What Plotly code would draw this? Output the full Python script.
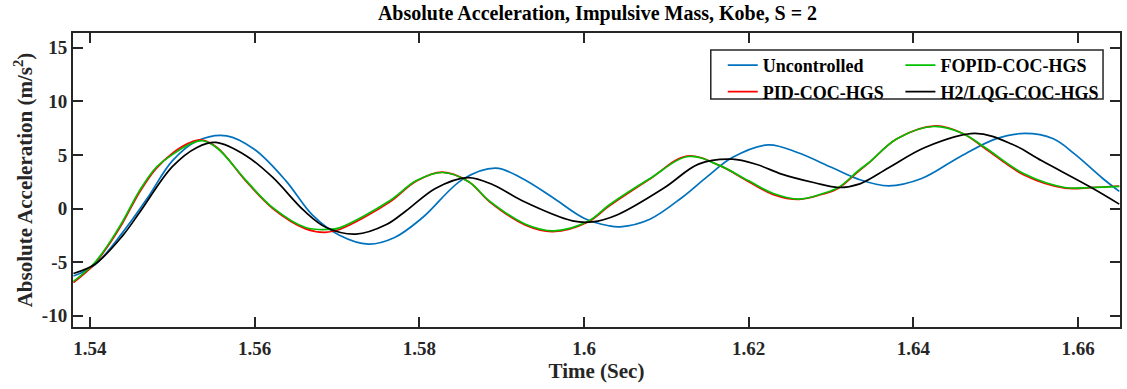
import plotly.graph_objects as go

# ---------------- data ----------------
t_unc = [1.5380, 1.5406, 1.5440, 1.5470, 1.5500, 1.5530, 1.5566, 1.5600, 1.5638, 1.5670,
         1.5703, 1.5738, 1.5770, 1.5804, 1.5853, 1.5893, 1.5925, 1.5962, 1.6000, 1.6030,
         1.6044, 1.6080, 1.6119, 1.6150, 1.6180, 1.6224, 1.6260, 1.6301, 1.6333, 1.6370,
         1.6410, 1.6455, 1.6500, 1.6535, 1.6570, 1.6596, 1.6630, 1.6650]
a_unc = [-6.3, -5.25, -2.2, 1.0, 4.45, 6.3, 6.78, 5.5, 2.58, -0.6,
         -2.5, -3.32, -2.7, -0.84, 2.74, 3.77, 2.8, 1.03, -0.9, -1.61,
         -1.71, -1.0, 1.03, 3.0, 4.76, 5.94, 5.2, 3.82, 2.74, 2.12,
         2.8, 4.76, 6.5, 7.0, 6.5, 5.07, 2.8, 1.6]

t_pid = [1.5380, 1.5404, 1.5420, 1.5440, 1.5460, 1.5480, 1.5501, 1.5520, 1.5535, 1.5555,
         1.5590, 1.5622, 1.5662, 1.5685, 1.5703, 1.5764, 1.5796, 1.5828, 1.5860, 1.5885,
         1.5929, 1.5962, 1.6006, 1.6030, 1.6079, 1.6125, 1.6165, 1.6200, 1.6230, 1.6261,
         1.6290, 1.6309, 1.6333, 1.6346, 1.6380, 1.6427, 1.6460, 1.6487, 1.6535, 1.6584,
         1.6616, 1.6650]
a_pid = [-6.9, -5.3, -3.7, -1.3, 1.5, 3.7, 5.2, 6.1, 6.4, 5.65,
         2.5, 0.0, -1.9, -2.22, -1.95, 0.6, 2.55, 3.4, 2.5, 0.65,
         -1.55, -2.15, -1.2, 0.2, 2.7, 4.9, 4.0, 2.5, 1.3, 0.85,
         1.35, 1.9, 3.45, 4.25, 6.5, 7.7, 7.0, 5.6, 3.1, 1.9,
         1.95, 2.1]

t_fopid = [1.5380, 1.5404, 1.5420, 1.5440, 1.5460, 1.5480, 1.5501, 1.5521, 1.5537, 1.5555,
           1.5590, 1.5622, 1.5662, 1.5690, 1.5703, 1.5764, 1.5796, 1.5828, 1.5860, 1.5885,
           1.5929, 1.5964, 1.6006, 1.6030, 1.6079, 1.6127, 1.6165, 1.6200, 1.6230, 1.6261,
           1.6290, 1.6309, 1.6333, 1.6346, 1.6380, 1.6424, 1.6460, 1.6487, 1.6535, 1.6584,
           1.6616, 1.6650]
a_fopid = [-6.8, -5.2, -3.6, -1.15, 1.65, 3.8, 5.07, 6.0, 6.32, 5.6,
           2.58, 0.09, -1.77, -1.95, -1.8, 0.72, 2.58, 3.36, 2.5, 0.72,
           -1.46, -2.08, -1.15, 0.3, 2.75, 4.85, 4.0, 2.58, 1.4, 0.88,
           1.4, 1.96, 3.52, 4.29, 6.5, 7.65, 7.0, 5.69, 3.21, 1.96,
           1.96, 2.06]

t_h2 = [1.5380, 1.5406, 1.5440, 1.5460, 1.5500, 1.5530, 1.5553, 1.5590, 1.5622, 1.5660,
        1.5687, 1.5723, 1.5760, 1.5784, 1.5820, 1.5859, 1.5890, 1.5925, 1.5986, 1.6010,
        1.6040, 1.6098, 1.6139, 1.6180, 1.6210, 1.6240, 1.6280, 1.6309, 1.6335, 1.6370,
        1.6414, 1.6475, 1.6520, 1.6556, 1.6616, 1.6650]
a_h2 = [-6.06, -5.2, -2.5, -0.4, 3.9, 5.7, 6.16, 4.9, 2.9, -0.2,
        -1.77, -2.39, -1.5, -0.21, 1.9, 2.89, 2.2, 0.72, -1.15, -1.25,
        -0.6, 1.96, 4.14, 4.6, 4.1, 3.21, 2.4, 1.96, 2.3, 3.8,
        5.69, 7.0, 6.0, 4.45, 1.96, 0.41]

x_ticks = [1.54, 1.56, 1.58, 1.60, 1.62, 1.64, 1.66]
x_tick_labels = ["1.54", "1.56", "1.58", "1.6", "1.62", "1.64", "1.66"]
y_ticks = [-10, -5, 0, 5, 10, 15]

FONT = "Liberation Serif"
AX = "#262626"
LINE = dict(width=1.7, shape="spline", smoothing=1.0)

fig = go.Figure()
fig.add_trace(go.Scatter(x=t_unc, y=a_unc, mode="lines", name="<b>Uncontrolled</b>",
                         line=dict(color="#0072BD", **LINE), legend="legend"))
fig.add_trace(go.Scatter(x=t_pid, y=a_pid, mode="lines", name="<b>PID-COC-HGS</b>",
                         line=dict(color="#FF0000", **LINE), legend="legend"))
fig.add_trace(go.Scatter(x=t_fopid, y=a_fopid, mode="lines", name="<b>FOPID-COC-HGS</b>",
                         line=dict(color="#00C000", **LINE), legend="legend2"))
fig.add_trace(go.Scatter(x=t_h2, y=a_h2, mode="lines", name="<b>H2/LQG-COC-HGS</b>",
                         line=dict(color="#000000", **LINE), legend="legend2"))

leg_common = dict(font=dict(family=FONT, size=18, color="#000000"),
                  bgcolor="rgba(0,0,0,0)", borderwidth=0,
                  xanchor="left", yanchor="top", orientation="v",
                  tracegroupgap=0, itemclick=False)

fig.update_layout(
    width=1127, height=389,
    margin=dict(l=73, r=5, t=33, b=62),
    paper_bgcolor="white", plot_bgcolor="white",
    font=dict(family=FONT, color="#262626"),
    title=dict(text="<b>Absolute Acceleration, Impulsive Mass, Kobe, S = 2</b>",
               x=(73 + 1122) / 2 / 1127, xanchor="center", y=1 - 13 / 389, yanchor="middle",
               font=dict(family=FONT, size=20, color="#000000")),
    xaxis=dict(range=[1.53794, 1.66509], tickvals=x_ticks, ticktext=[f"<b>{s}</b>" for s in x_tick_labels],
               ticks="inside", ticklen=10, tickwidth=2, tickcolor=AX,
               showline=True, linewidth=2, linecolor=AX, mirror="ticks",
               showgrid=False, zeroline=False,
               tickfont=dict(family=FONT, size=19, color="#262626"),
               ticklabelstandoff=3,
               title=dict(text="<b>Time (Sec)</b>", standoff=5,
                          font=dict(family=FONT, size=21, color="#262626"))),
    yaxis=dict(range=[-11.05, 16.37], tickvals=y_ticks, ticktext=[f"<b>{v}</b>" for v in y_ticks],
               ticks="inside", ticklen=10, tickwidth=2, tickcolor=AX,
               showline=True, linewidth=2, linecolor=AX, mirror="ticks",
               showgrid=False, zeroline=False,
               tickfont=dict(family=FONT, size=19, color="#262626"),
               title=dict(text="<b>Absolute Acceleration (m/s<sup>2</sup>)</b>", standoff=4,
                          font=dict(family=FONT, size=21, color="#262626"))),
    legend=dict(x=(724 - 73) / 1049, y=(327 - 47) / 294, **leg_common),
    legend2=dict(x=(902 - 73) / 1049, y=(327 - 47) / 294, **leg_common),
    showlegend=True,
)

# legend frame (box around both legend columns)
fig.add_shape(type="rect", xref="paper", yref="paper",
              x0=(712 - 73) / 1049, x1=(1105 - 73) / 1049,
              y0=(327 - 99) / 294, y1=(327 - 50) / 294,
              line=dict(color=AX, width=1.5), fillcolor="rgba(0,0,0,0)", layer="above")

fig.write_html("out.html")
